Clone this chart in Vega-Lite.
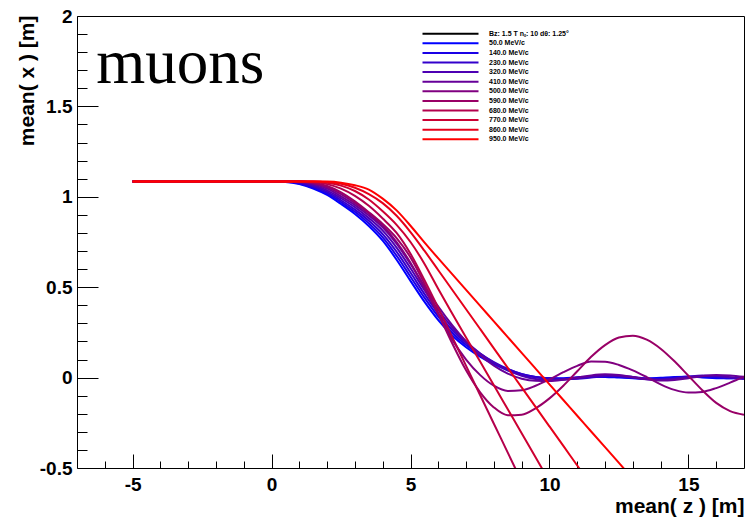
{
"$schema": "https://vega.github.io/schema/vega-lite/v6.json",
"width": 667, "height": 452,
"autosize": {"type": "none"},
"padding": {"left": 77, "top": 16, "right": 2, "bottom": 50},
"background": "white",
"config": {"view": {"stroke": "#000000", "strokeWidth": 1}, "font": "Liberation Sans"},
"datasets": {
"curves": [
{"p":"50.0 MeV/c","z":-5,"x":1.085},{"p":"50.0 MeV/c","z":0,"x":1.085},{"p":"50.0 MeV/c","z":0.5,"x":1.082},{"p":"50.0 MeV/c","z":1,"x":1.07},{"p":"50.0 MeV/c","z":1.5,"x":1.046},{"p":"50.0 MeV/c","z":2,"x":1.01},{"p":"50.0 MeV/c","z":2.5,"x":0.96},{"p":"50.0 MeV/c","z":3,"x":0.905},{"p":"50.0 MeV/c","z":3.5,"x":0.838},{"p":"50.0 MeV/c","z":4,"x":0.757},{"p":"50.0 MeV/c","z":4.5,"x":0.652},{"p":"50.0 MeV/c","z":5,"x":0.535},{"p":"50.0 MeV/c","z":5.5,"x":0.42},{"p":"50.0 MeV/c","z":6,"x":0.318},{"p":"50.0 MeV/c","z":6.5,"x":0.233},{"p":"50.0 MeV/c","z":7,"x":0.168},{"p":"50.0 MeV/c","z":7.5,"x":0.116},{"p":"50.0 MeV/c","z":8,"x":0.074},{"p":"50.0 MeV/c","z":8.5,"x":0.04},{"p":"50.0 MeV/c","z":9,"x":0.015},{"p":"50.0 MeV/c","z":9.5,"x":0.002},{"p":"50.0 MeV/c","z":10,"x":-0.004},{"p":"50.0 MeV/c","z":10.5,"x":-0.003},{"p":"50.0 MeV/c","z":11,"x":0.002},{"p":"50.0 MeV/c","z":11.5,"x":0.005},{"p":"50.0 MeV/c","z":12,"x":0.004},{"p":"50.0 MeV/c","z":12.5,"x":0.0},{"p":"50.0 MeV/c","z":13,"x":-0.004},{"p":"50.0 MeV/c","z":13.5,"x":-0.005},{"p":"50.0 MeV/c","z":14,"x":-0.001},{"p":"50.0 MeV/c","z":14.5,"x":0.004},{"p":"50.0 MeV/c","z":15,"x":0.005},{"p":"50.0 MeV/c","z":15.5,"x":0.001},{"p":"50.0 MeV/c","z":16,"x":-0.003},{"p":"50.0 MeV/c","z":16.5,"x":-0.003},{"p":"50.0 MeV/c","z":17,"x":0.002},
{"p":"140.0 MeV/c","z":-5,"x":1.085},{"p":"140.0 MeV/c","z":0,"x":1.085},{"p":"140.0 MeV/c","z":0.5,"x":1.0835},{"p":"140.0 MeV/c","z":1,"x":1.074},{"p":"140.0 MeV/c","z":1.5,"x":1.052},{"p":"140.0 MeV/c","z":2,"x":1.019},{"p":"140.0 MeV/c","z":2.5,"x":0.971},{"p":"140.0 MeV/c","z":3,"x":0.917},{"p":"140.0 MeV/c","z":3.5,"x":0.853},{"p":"140.0 MeV/c","z":4,"x":0.776},{"p":"140.0 MeV/c","z":4.5,"x":0.674},{"p":"140.0 MeV/c","z":5,"x":0.558},{"p":"140.0 MeV/c","z":5.5,"x":0.442},{"p":"140.0 MeV/c","z":6,"x":0.337},{"p":"140.0 MeV/c","z":6.5,"x":0.248},{"p":"140.0 MeV/c","z":7,"x":0.18},{"p":"140.0 MeV/c","z":7.5,"x":0.125},{"p":"140.0 MeV/c","z":8,"x":0.082},{"p":"140.0 MeV/c","z":8.5,"x":0.046},{"p":"140.0 MeV/c","z":9,"x":0.019},{"p":"140.0 MeV/c","z":9.5,"x":0.004},{"p":"140.0 MeV/c","z":10,"x":-0.004},{"p":"140.0 MeV/c","z":10.5,"x":-0.007},{"p":"140.0 MeV/c","z":11,"x":-0.003},{"p":"140.0 MeV/c","z":11.5,"x":0.004},{"p":"140.0 MeV/c","z":12,"x":0.008},{"p":"140.0 MeV/c","z":12.5,"x":0.005},{"p":"140.0 MeV/c","z":13,"x":-0.002},{"p":"140.0 MeV/c","z":13.5,"x":-0.007},{"p":"140.0 MeV/c","z":14,"x":-0.006},{"p":"140.0 MeV/c","z":14.5,"x":0.0},{"p":"140.0 MeV/c","z":15,"x":0.006},{"p":"140.0 MeV/c","z":15.5,"x":0.007},{"p":"140.0 MeV/c","z":16,"x":0.002},{"p":"140.0 MeV/c","z":16.5,"x":-0.004},{"p":"140.0 MeV/c","z":17,"x":-0.005},
{"p":"230.0 MeV/c","z":-5,"x":1.085},{"p":"230.0 MeV/c","z":0,"x":1.085},{"p":"230.0 MeV/c","z":0.5,"x":1.085},{"p":"230.0 MeV/c","z":1,"x":1.077},{"p":"230.0 MeV/c","z":1.5,"x":1.058},{"p":"230.0 MeV/c","z":2,"x":1.027},{"p":"230.0 MeV/c","z":2.5,"x":0.981},{"p":"230.0 MeV/c","z":3,"x":0.929},{"p":"230.0 MeV/c","z":3.5,"x":0.868},{"p":"230.0 MeV/c","z":4,"x":0.794},{"p":"230.0 MeV/c","z":4.5,"x":0.696},{"p":"230.0 MeV/c","z":5,"x":0.581},{"p":"230.0 MeV/c","z":5.5,"x":0.463},{"p":"230.0 MeV/c","z":6,"x":0.355},{"p":"230.0 MeV/c","z":6.5,"x":0.263},{"p":"230.0 MeV/c","z":7,"x":0.191},{"p":"230.0 MeV/c","z":7.5,"x":0.133},{"p":"230.0 MeV/c","z":8,"x":0.086},{"p":"230.0 MeV/c","z":8.5,"x":0.048},{"p":"230.0 MeV/c","z":9,"x":0.02},{"p":"230.0 MeV/c","z":9.5,"x":0.003},{"p":"230.0 MeV/c","z":10,"x":-0.003},{"p":"230.0 MeV/c","z":10.5,"x":-0.008},{"p":"230.0 MeV/c","z":11,"x":-0.007},{"p":"230.0 MeV/c","z":11.5,"x":0.0},{"p":"230.0 MeV/c","z":12,"x":0.008},{"p":"230.0 MeV/c","z":12.5,"x":0.01},{"p":"230.0 MeV/c","z":13,"x":0.004},{"p":"230.0 MeV/c","z":13.5,"x":-0.005},{"p":"230.0 MeV/c","z":14,"x":-0.01},{"p":"230.0 MeV/c","z":14.5,"x":-0.006},{"p":"230.0 MeV/c","z":15,"x":0.002},{"p":"230.0 MeV/c","z":15.5,"x":0.009},{"p":"230.0 MeV/c","z":16,"x":0.008},{"p":"230.0 MeV/c","z":16.5,"x":0.0},{"p":"230.0 MeV/c","z":17,"x":-0.007},
{"p":"320.0 MeV/c","z":-5,"x":1.085},{"p":"320.0 MeV/c","z":0,"x":1.085},{"p":"320.0 MeV/c","z":0.5,"x":1.085},{"p":"320.0 MeV/c","z":1,"x":1.08},{"p":"320.0 MeV/c","z":1.5,"x":1.064},{"p":"320.0 MeV/c","z":2,"x":1.036},{"p":"320.0 MeV/c","z":2.5,"x":0.992},{"p":"320.0 MeV/c","z":3,"x":0.942},{"p":"320.0 MeV/c","z":3.5,"x":0.882},{"p":"320.0 MeV/c","z":4,"x":0.813},{"p":"320.0 MeV/c","z":4.5,"x":0.719},{"p":"320.0 MeV/c","z":5,"x":0.605},{"p":"320.0 MeV/c","z":5.5,"x":0.485},{"p":"320.0 MeV/c","z":6,"x":0.374},{"p":"320.0 MeV/c","z":6.5,"x":0.278},{"p":"320.0 MeV/c","z":7,"x":0.2},{"p":"320.0 MeV/c","z":7.5,"x":0.135},{"p":"320.0 MeV/c","z":8,"x":0.082},{"p":"320.0 MeV/c","z":8.5,"x":0.04},{"p":"320.0 MeV/c","z":9,"x":0.01},{"p":"320.0 MeV/c","z":9.5,"x":-0.008},{"p":"320.0 MeV/c","z":10,"x":-0.014},{"p":"320.0 MeV/c","z":10.5,"x":-0.012},{"p":"320.0 MeV/c","z":11,"x":-0.003},{"p":"320.0 MeV/c","z":11.5,"x":0.007},{"p":"320.0 MeV/c","z":12,"x":0.012},{"p":"320.0 MeV/c","z":12.5,"x":0.009},{"p":"320.0 MeV/c","z":13,"x":0.0},{"p":"320.0 MeV/c","z":13.5,"x":-0.009},{"p":"320.0 MeV/c","z":14,"x":-0.012},{"p":"320.0 MeV/c","z":14.5,"x":-0.006},{"p":"320.0 MeV/c","z":15,"x":0.004},{"p":"320.0 MeV/c","z":15.5,"x":0.011},{"p":"320.0 MeV/c","z":16,"x":0.01},{"p":"320.0 MeV/c","z":16.5,"x":0.002},{"p":"320.0 MeV/c","z":17,"x":-0.006},
{"p":"410.0 MeV/c","z":-5,"x":1.085},{"p":"410.0 MeV/c","z":0,"x":1.085},{"p":"410.0 MeV/c","z":0.5,"x":1.085},{"p":"410.0 MeV/c","z":1,"x":1.083},{"p":"410.0 MeV/c","z":1.5,"x":1.07},{"p":"410.0 MeV/c","z":2,"x":1.045},{"p":"410.0 MeV/c","z":2.5,"x":1.002},{"p":"410.0 MeV/c","z":3,"x":0.954},{"p":"410.0 MeV/c","z":3.5,"x":0.897},{"p":"410.0 MeV/c","z":4,"x":0.831},{"p":"410.0 MeV/c","z":4.5,"x":0.741},{"p":"410.0 MeV/c","z":5,"x":0.628},{"p":"410.0 MeV/c","z":5.5,"x":0.507},{"p":"410.0 MeV/c","z":6,"x":0.393},{"p":"410.0 MeV/c","z":6.5,"x":0.29},{"p":"410.0 MeV/c","z":7,"x":0.2},{"p":"410.0 MeV/c","z":7.5,"x":0.125},{"p":"410.0 MeV/c","z":8,"x":0.066},{"p":"410.0 MeV/c","z":8.5,"x":0.022},{"p":"410.0 MeV/c","z":9,"x":-0.006},{"p":"410.0 MeV/c","z":9.5,"x":-0.018},{"p":"410.0 MeV/c","z":10,"x":-0.019},{"p":"410.0 MeV/c","z":10.5,"x":-0.012},{"p":"410.0 MeV/c","z":11,"x":0.0},{"p":"410.0 MeV/c","z":11.5,"x":0.012},{"p":"410.0 MeV/c","z":12,"x":0.018},{"p":"410.0 MeV/c","z":12.5,"x":0.014},{"p":"410.0 MeV/c","z":13,"x":0.003},{"p":"410.0 MeV/c","z":13.5,"x":-0.009},{"p":"410.0 MeV/c","z":14,"x":-0.016},{"p":"410.0 MeV/c","z":14.5,"x":-0.013},{"p":"410.0 MeV/c","z":15,"x":-0.003},{"p":"410.0 MeV/c","z":15.5,"x":0.008},{"p":"410.0 MeV/c","z":16,"x":0.015},{"p":"410.0 MeV/c","z":16.5,"x":0.012},{"p":"410.0 MeV/c","z":17,"x":0.004},
{"p":"500.0 MeV/c","z":-5,"x":1.085},{"p":"500.0 MeV/c","z":0,"x":1.085},{"p":"500.0 MeV/c","z":0.5,"x":1.085},{"p":"500.0 MeV/c","z":1,"x":1.084},{"p":"500.0 MeV/c","z":1.5,"x":1.075},{"p":"500.0 MeV/c","z":2,"x":1.053},{"p":"500.0 MeV/c","z":2.5,"x":1.015},{"p":"500.0 MeV/c","z":3,"x":0.965},{"p":"500.0 MeV/c","z":3.5,"x":0.908},{"p":"500.0 MeV/c","z":4,"x":0.84},{"p":"500.0 MeV/c","z":4.5,"x":0.75},{"p":"500.0 MeV/c","z":5,"x":0.635},{"p":"500.0 MeV/c","z":5.5,"x":0.495},{"p":"500.0 MeV/c","z":6,"x":0.35},{"p":"500.0 MeV/c","z":6.5,"x":0.21},{"p":"500.0 MeV/c","z":7,"x":0.1},{"p":"500.0 MeV/c","z":7.5,"x":0.015},{"p":"500.0 MeV/c","z":8,"x":-0.045},{"p":"500.0 MeV/c","z":8.5,"x":-0.074},{"p":"500.0 MeV/c","z":9,"x":-0.07},{"p":"500.0 MeV/c","z":9.5,"x":-0.045},{"p":"500.0 MeV/c","z":10,"x":-0.01},{"p":"500.0 MeV/c","z":10.5,"x":0.03},{"p":"500.0 MeV/c","z":11,"x":0.065},{"p":"500.0 MeV/c","z":11.5,"x":0.089},{"p":"500.0 MeV/c","z":12,"x":0.088},{"p":"500.0 MeV/c","z":12.5,"x":0.07},{"p":"500.0 MeV/c","z":13,"x":0.04},{"p":"500.0 MeV/c","z":13.5,"x":0.003},{"p":"500.0 MeV/c","z":14,"x":-0.037},{"p":"500.0 MeV/c","z":14.5,"x":-0.068},{"p":"500.0 MeV/c","z":15,"x":-0.083},{"p":"500.0 MeV/c","z":15.5,"x":-0.079},{"p":"500.0 MeV/c","z":16,"x":-0.058},{"p":"500.0 MeV/c","z":16.5,"x":-0.028},{"p":"500.0 MeV/c","z":17,"x":0.005},
{"p":"590.0 MeV/c","z":-5,"x":1.085},{"p":"590.0 MeV/c","z":0,"x":1.085},{"p":"590.0 MeV/c","z":0.5,"x":1.085},{"p":"590.0 MeV/c","z":1,"x":1.085},{"p":"590.0 MeV/c","z":1.5,"x":1.078},{"p":"590.0 MeV/c","z":2,"x":1.06},{"p":"590.0 MeV/c","z":2.5,"x":1.025},{"p":"590.0 MeV/c","z":3,"x":0.975},{"p":"590.0 MeV/c","z":3.5,"x":0.915},{"p":"590.0 MeV/c","z":4,"x":0.85},{"p":"590.0 MeV/c","z":4.5,"x":0.772},{"p":"590.0 MeV/c","z":5,"x":0.665},{"p":"590.0 MeV/c","z":5.5,"x":0.52},{"p":"590.0 MeV/c","z":6,"x":0.355},{"p":"590.0 MeV/c","z":6.5,"x":0.19},{"p":"590.0 MeV/c","z":7,"x":0.04},{"p":"590.0 MeV/c","z":7.5,"x":-0.08},{"p":"590.0 MeV/c","z":8,"x":-0.165},{"p":"590.0 MeV/c","z":8.5,"x":-0.208},{"p":"590.0 MeV/c","z":9,"x":-0.205},{"p":"590.0 MeV/c","z":9.5,"x":-0.17},{"p":"590.0 MeV/c","z":10,"x":-0.115},{"p":"590.0 MeV/c","z":10.5,"x":-0.045},{"p":"590.0 MeV/c","z":11,"x":0.035},{"p":"590.0 MeV/c","z":11.5,"x":0.115},{"p":"590.0 MeV/c","z":12,"x":0.18},{"p":"590.0 MeV/c","z":12.5,"x":0.222},{"p":"590.0 MeV/c","z":13,"x":0.232},{"p":"590.0 MeV/c","z":13.5,"x":0.21},{"p":"590.0 MeV/c","z":14,"x":0.16},{"p":"590.0 MeV/c","z":14.5,"x":0.09},{"p":"590.0 MeV/c","z":15,"x":0.01},{"p":"590.0 MeV/c","z":15.5,"x":-0.07},{"p":"590.0 MeV/c","z":16,"x":-0.14},{"p":"590.0 MeV/c","z":16.5,"x":-0.185},{"p":"590.0 MeV/c","z":17,"x":-0.205},
{"p":"680.0 MeV/c","z":-5,"x":1.085},{"p":"680.0 MeV/c","z":0,"x":1.085},{"p":"680.0 MeV/c","z":1,"x":1.085},{"p":"680.0 MeV/c","z":1.5,"x":1.082},{"p":"680.0 MeV/c","z":2,"x":1.07},{"p":"680.0 MeV/c","z":2.5,"x":1.045},{"p":"680.0 MeV/c","z":3,"x":1.005},{"p":"680.0 MeV/c","z":3.5,"x":0.95},{"p":"680.0 MeV/c","z":4,"x":0.88},{"p":"680.0 MeV/c","z":4.5,"x":0.8},{"p":"680.0 MeV/c","z":5,"x":0.685},{"p":"680.0 MeV/c","z":5.5,"x":0.54},{"p":"680.0 MeV/c","z":6,"x":0.385},{"p":"680.0 MeV/c","z":6.5,"x":0.225},{"p":"680.0 MeV/c","z":7,"x":0.065},{"p":"680.0 MeV/c","z":7.5,"x":-0.095},{"p":"680.0 MeV/c","z":8,"x":-0.255},{"p":"680.0 MeV/c","z":8.5,"x":-0.415},{"p":"680.0 MeV/c","z":9,"x":-0.575},
{"p":"770.0 MeV/c","z":-5,"x":1.085},{"p":"770.0 MeV/c","z":0,"x":1.085},{"p":"770.0 MeV/c","z":1,"x":1.085},{"p":"770.0 MeV/c","z":1.5,"x":1.084},{"p":"770.0 MeV/c","z":2,"x":1.078},{"p":"770.0 MeV/c","z":2.5,"x":1.062},{"p":"770.0 MeV/c","z":3,"x":1.032},{"p":"770.0 MeV/c","z":3.5,"x":0.985},{"p":"770.0 MeV/c","z":4,"x":0.92},{"p":"770.0 MeV/c","z":4.5,"x":0.845},{"p":"770.0 MeV/c","z":5,"x":0.75},{"p":"770.0 MeV/c","z":5.5,"x":0.63},{"p":"770.0 MeV/c","z":6,"x":0.49},{"p":"770.0 MeV/c","z":6.5,"x":0.355},{"p":"770.0 MeV/c","z":7,"x":0.222},{"p":"770.0 MeV/c","z":7.5,"x":0.09},{"p":"770.0 MeV/c","z":8,"x":-0.042},{"p":"770.0 MeV/c","z":8.5,"x":-0.175},{"p":"770.0 MeV/c","z":9,"x":-0.308},{"p":"770.0 MeV/c","z":9.5,"x":-0.44},{"p":"770.0 MeV/c","z":10,"x":-0.575},
{"p":"860.0 MeV/c","z":-5,"x":1.085},{"p":"860.0 MeV/c","z":0,"x":1.085},{"p":"860.0 MeV/c","z":1,"x":1.085},{"p":"860.0 MeV/c","z":1.5,"x":1.085},{"p":"860.0 MeV/c","z":2,"x":1.082},{"p":"860.0 MeV/c","z":2.5,"x":1.072},{"p":"860.0 MeV/c","z":3,"x":1.05},{"p":"860.0 MeV/c","z":3.5,"x":1.015},{"p":"860.0 MeV/c","z":4,"x":0.965},{"p":"860.0 MeV/c","z":4.5,"x":0.895},{"p":"860.0 MeV/c","z":5,"x":0.805},{"p":"860.0 MeV/c","z":5.5,"x":0.702},{"p":"860.0 MeV/c","z":6,"x":0.594},{"p":"860.0 MeV/c","z":6.5,"x":0.486},{"p":"860.0 MeV/c","z":7,"x":0.378},{"p":"860.0 MeV/c","z":7.5,"x":0.27},{"p":"860.0 MeV/c","z":8,"x":0.162},{"p":"860.0 MeV/c","z":8.5,"x":0.054},{"p":"860.0 MeV/c","z":9,"x":-0.054},{"p":"860.0 MeV/c","z":9.5,"x":-0.162},{"p":"860.0 MeV/c","z":10,"x":-0.27},{"p":"860.0 MeV/c","z":10.5,"x":-0.378},{"p":"860.0 MeV/c","z":11,"x":-0.486},{"p":"860.0 MeV/c","z":11.5,"x":-0.594},
{"p":"950.0 MeV/c","z":-5,"x":1.085},{"p":"950.0 MeV/c","z":0,"x":1.085},{"p":"950.0 MeV/c","z":1,"x":1.085},{"p":"950.0 MeV/c","z":1.5,"x":1.085},{"p":"950.0 MeV/c","z":2,"x":1.084},{"p":"950.0 MeV/c","z":2.5,"x":1.078},{"p":"950.0 MeV/c","z":3,"x":1.064},{"p":"950.0 MeV/c","z":3.5,"x":1.04},{"p":"950.0 MeV/c","z":4,"x":0.99},{"p":"950.0 MeV/c","z":4.5,"x":0.925},{"p":"950.0 MeV/c","z":5,"x":0.84},{"p":"950.0 MeV/c","z":5.5,"x":0.748},{"p":"950.0 MeV/c","z":6,"x":0.659},{"p":"950.0 MeV/c","z":6.5,"x":0.572},{"p":"950.0 MeV/c","z":7,"x":0.485},{"p":"950.0 MeV/c","z":7.5,"x":0.398},{"p":"950.0 MeV/c","z":8,"x":0.311},{"p":"950.0 MeV/c","z":8.5,"x":0.224},{"p":"950.0 MeV/c","z":9,"x":0.137},{"p":"950.0 MeV/c","z":9.5,"x":0.05},{"p":"950.0 MeV/c","z":10,"x":-0.037},{"p":"950.0 MeV/c","z":10.5,"x":-0.124},{"p":"950.0 MeV/c","z":11,"x":-0.211},{"p":"950.0 MeV/c","z":11.5,"x":-0.298},{"p":"950.0 MeV/c","z":12,"x":-0.385},{"p":"950.0 MeV/c","z":12.5,"x":-0.472},{"p":"950.0 MeV/c","z":13,"x":-0.559}
],
"note": [{"t": "muons"}]
},
"resolve": {"axis": {"x": "independent", "y": "independent"}},
"layer": [
{
"data": {"name": "curves"},
"mark": {"type": "line", "clip": true, "strokeWidth": 2, "interpolate": "monotone"},
"encoding": {
"x": {"field": "z", "type": "quantitative",
 "scale": {"domain": [-7, 17], "nice": false, "zero": false},
 "axis": {"orient": "bottom", "title": "mean( z ) [m]", "values": [-5,0,5,10,15],
  "grid": false, "domain": false, "ticks": true, "tickSize": -14, "tickColor": "#000000", "tickWidth": 1,
  "labelExpr": "datum.value + ''",
  "labelFont": "Liberation Sans", "labelFontWeight": "bold", "labelFontSize": 19, "labelColor": "#000000",
  "labelPadding": 21, "labelBaseline": "top", "labelFlush": false, "labelOverlap": false, "labelBound": false,
  "titleFont": "Liberation Sans", "titleFontWeight": "bold", "titleFontSize": 21, "titleColor": "#000000",
  "titleAnchor": "end", "titleAlign": "right", "titleBaseline": "alphabetic", "titleX": 667, "titleY": 44.5}},
"y": {"field": "x", "type": "quantitative",
 "scale": {"domain": [-0.5, 2], "nice": false, "zero": false},
 "axis": {"orient": "left", "title": "mean( x ) [m]", "values": [-0.5,0,0.5,1,1.5,2],
  "grid": false, "domain": false, "ticks": true, "tickSize": -21, "tickColor": "#000000", "tickWidth": 1,
  "labelExpr": "datum.value + ''",
  "labelFont": "Liberation Sans", "labelFontWeight": "bold", "labelFontSize": 19, "labelColor": "#000000",
  "labelPadding": 26, "labelBaseline": "middle", "labelFlush": false, "labelOverlap": false, "labelBound": false,
  "titleFont": "Liberation Sans", "titleFontWeight": "bold", "titleFontSize": 21, "titleColor": "#000000",
  "titleAngle": -90, "titleAnchor": "end", "titleAlign": "right", "titleBaseline": "alphabetic", "titleX": -44, "titleY": -1}},
"color": {"field": "p", "type": "nominal",
 "scale": {"domain": ["Bz: 1.5 T nₛ: 10 dθ: 1.25°","50.0 MeV/c","140.0 MeV/c","230.0 MeV/c","320.0 MeV/c","410.0 MeV/c","500.0 MeV/c","590.0 MeV/c","680.0 MeV/c","770.0 MeV/c","860.0 MeV/c","950.0 MeV/c"],
  "range": ["#000000","#0000ff","#1a00e6","#3300cc","#4d00b3","#660099","#800080","#990066","#b3004d","#cc0033","#e6001a","#ff0000"]},
 "legend": {"orient": "none", "legendX": 368.5, "legendY": 12.7, "title": null, "padding": 0,
  "symbolType": "M-7,0L7,0", "symbolSize": 64, "symbolStrokeWidth": 2, "symbolOpacity": 1,
  "labelFont": "Liberation Sans", "labelFontWeight": "bold", "labelFontSize": 7, "labelColor": "#000000",
  "labelOffset": 33.5, "labelLimit": 300, "rowPadding": 0.6}}
}
},
{
"data": {"name": "note"},
"mark": {"type": "text", "font": "Liberation Serif", "fontSize": 63, "align": "left", "baseline": "alphabetic", "color": "#000000"},
"encoding": {
"x": {"datum": -6.31, "type": "quantitative",
 "axis": {"orient": "bottom", "title": null, "values": [-6,-4,-3,-2,-1,1,2,3,4,6,7,8,9,11,12,13,14,16],
  "grid": false, "domain": false, "labels": false, "ticks": true, "tickSize": -7, "tickColor": "#000000", "tickWidth": 1}},
"y": {"datum": 1.632, "type": "quantitative",
 "axis": {"orient": "left", "title": null, "values": [-0.4,-0.3,-0.2,-0.1,0.1,0.2,0.3,0.4,0.6,0.7,0.8,0.9,1.1,1.2,1.3,1.4,1.6,1.7,1.8,1.9],
  "grid": false, "domain": false, "labels": false, "ticks": true, "tickSize": -10, "tickColor": "#000000", "tickWidth": 1}},
"text": {"field": "t"}}
}
]
}
